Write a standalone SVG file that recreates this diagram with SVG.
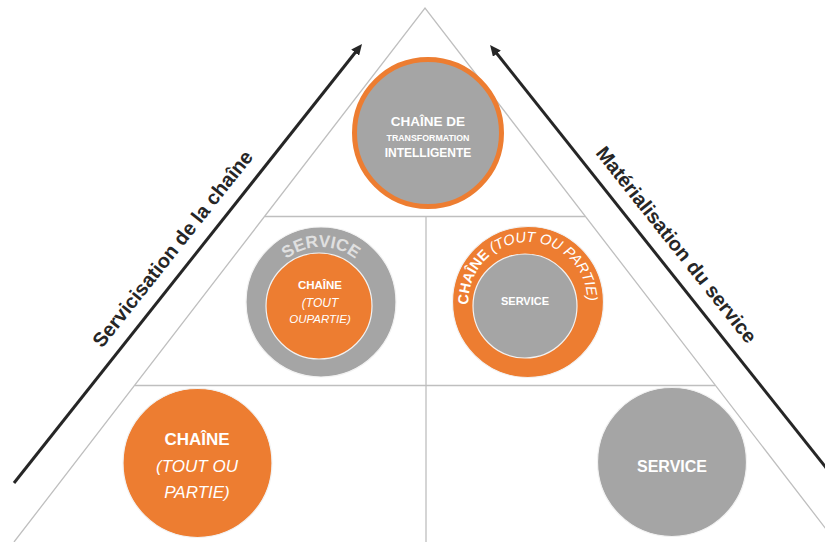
<svg xmlns="http://www.w3.org/2000/svg" width="825" height="542" viewBox="0 0 825 542">
<style>
  text { font-family: "Liberation Sans", Arial, sans-serif; }
  .grid { stroke: #bfbfbf; stroke-width: 1.3; fill: none; }
  .arrow { stroke: #262626; stroke-width: 3; fill: none; }
  .lbl { font-size: 20px; font-weight: bold; fill: #262626; text-anchor: middle; }
  .orange { fill: #ED7D31; }
  .gray { fill: #A5A5A5; }
  .edge { stroke: #f2f2f2; stroke-width: 1.2; }
  .w { fill: #ffffff; text-anchor: middle; }
  .b { font-weight: bold; }
  .i { font-style: italic; }
</style>
<defs>
  <marker id="ah" markerUnits="userSpaceOnUse" markerWidth="12" markerHeight="10" refX="4" refY="5" orient="auto">
    <path d="M0,0 L11,5 L0,10 z" fill="#262626"/>
  </marker>
  <path id="ringL" d="M321,357 A55,55 0 1 1 321,247 A55,55 0 1 1 321,357"/>
  <path id="ringR" d="M528,361 A59.5,59.5 0 1 1 528,242 A59.5,59.5 0 1 1 528,361"/>
</defs>

<g id="pyramid">
  <polyline class="grid" points="14,542 425,8 836,542"/>
  <line class="grid" x1="265" y1="216.5" x2="585" y2="216.5"/>
  <line class="grid" x1="135" y1="385.5" x2="715" y2="385.5"/>
  <line class="grid" x1="426" y1="216.5" x2="426" y2="542"/>
</g>

<g id="connectors">
  <line class="arrow" x1="14" y1="483" x2="357.65" y2="49.5" marker-end="url(#ah)"/>
  <line class="arrow" x1="835" y1="479" x2="494.4" y2="50.5" marker-end="url(#ah)"/>
  <text class="lbl" transform="translate(178,253) rotate(-51.6)">Servicisation de la chaîne</text>
  <text class="lbl" transform="translate(671,249) rotate(51.5)">Matérialisation du service</text>
</g>

<g id="top">
  <circle cx="428" cy="133" r="73.5" class="gray" stroke="#ED7D31" stroke-width="5"/>
  <text class="w b" x="428" y="126" font-size="13.5">CHAÎNE DE</text>
  <text class="w b" x="428" y="140.5" font-size="8.8">TRANSFORMATION</text>
  <text class="w b" x="428" y="156.5" font-size="12">INTELLIGENTE</text>
</g>

<g id="mid-left">
  <circle cx="321" cy="302" r="75" class="gray edge"/>
  <text font-size="17" font-weight="bold" fill="#e0e0e0" text-anchor="middle"><textPath href="#ringL" startOffset="50%">SERVICE</textPath></text>
  <circle cx="319" cy="306" r="53" class="orange edge"/>
  <text class="w b" x="320" y="289" font-size="11.5">CHAÎNE</text>
  <text class="w i" x="320" y="307" font-size="12">(TOUT</text>
  <text class="w i" x="320" y="323" font-size="11.5">OUPARTIE)</text>
</g>

<g id="mid-right">
  <circle cx="528" cy="302" r="75.5" class="orange edge"/>
  <circle cx="525" cy="306" r="52" class="gray edge"/>
  <text font-size="14.5" fill="#ffffff"><textPath href="#ringR" startOffset="90"><tspan font-weight="bold">CHAÎNE</tspan><tspan font-style="italic"> (TOUT OU PARTIE)</tspan></textPath></text>
  <text class="w b" x="525" y="305" font-size="11">SERVICE</text>
</g>

<g id="bottom-left">
  <circle cx="197.5" cy="463" r="74.5" class="orange edge"/>
  <text class="w b" x="197" y="445" font-size="17">CHAÎNE</text>
  <text class="w i" x="197" y="472" font-size="17">(TOUT OU</text>
  <text class="w i" x="197" y="498" font-size="17">PARTIE)</text>
</g>

<g id="bottom-right">
  <circle cx="672" cy="462" r="74.5" class="gray edge"/>
  <text class="w b" x="672" y="472" font-size="16">SERVICE</text>
</g>
</svg>
